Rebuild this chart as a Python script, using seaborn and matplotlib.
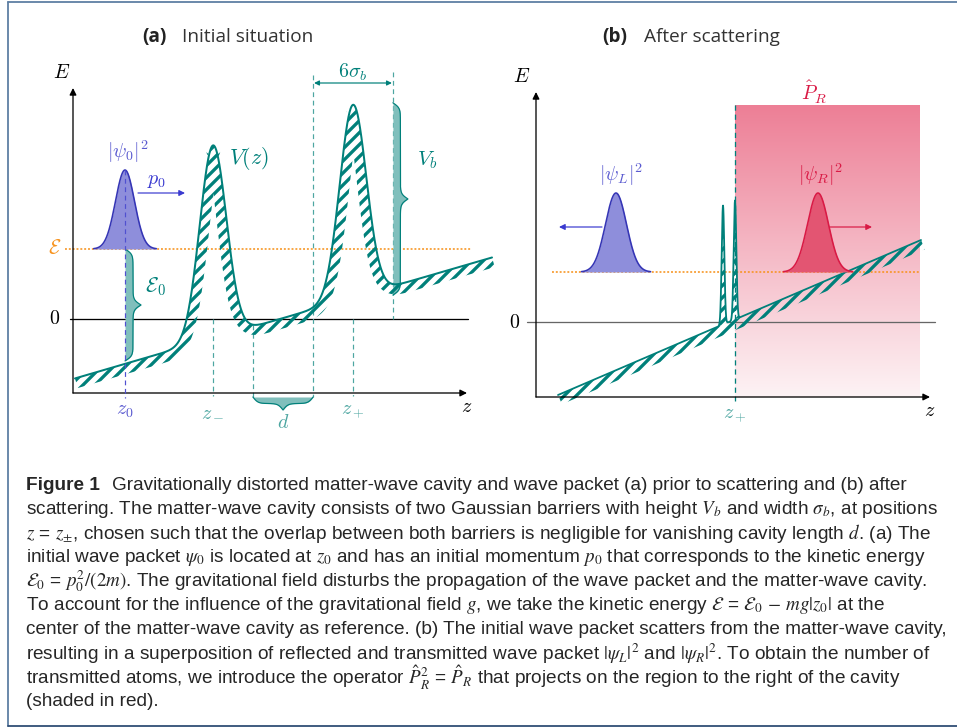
import numpy as np
import matplotlib
matplotlib.use("Agg")
import matplotlib.pyplot as plt
from matplotlib.colors import LinearSegmentedColormap
from matplotlib.lines import Line2D
import seaborn as sns

sns.set_theme(style="white")
plt.rcParams["font.family"] = ["Liberation Sans", "DejaVu Sans"]
plt.rcParams["hatch.linewidth"] = 3.3

TEAL = "#00807a"
TEAL_LIGHT = "#4da6a1"
TEAL_FILL = "#80bfbc"
BLUE = "#3535b5"
BLUE_FILL = "#8e8edb"
BLUE_TEXT = "#5a5ad0"
RED = "#d91a45"
RED_FILL = "#e35572"
ORANGE = "#f7931e"

# ---- panel (a): initial situation (z to the right, E up, origin where E = 0)
a_axis_end = [394, 231]          # tip of z arrow, tip of E arrow
a_axis_floor = -74               # E where the z axis sits
a_slope = 0.29                   # tilt of V(z) from gravity
a_offset = -60                   # V(0) without barriers
a_barrier_z = [140, 280]         # z_-, z_+
a_barrier_height = 193           # V_b
a_barrier_sigma = 13.3           # sigma_b
a_z_range = [2, 419]
a_level = 70                     # kinetic energy level E (orange)
a_level_range = [-8, 399]
a_zero_range = [-3, 395]
a_packet = [52, 9.5, 79]         # z0, width, height of |psi_0|^2

# ---- panel (b): after scattering
b_axis_end = [394, 230]
b_axis_floor = -75
b_slope = 0.427
b_offset = -82.4
b_barrier_z = [187, 199]
b_barrier_height = 119
b_barrier_sigma = 1.3
b_z_range = [22, 385]
b_level = 50
b_level_range = [16, 384]
b_zero_range = [-9, 399]
b_packet_z = [80, 282]           # |psi_L|^2, |psi_R|^2
b_packet_shape = [10.5, 79]
b_region = [199, 384, -75, 217]  # P_R shading: z from, z to, E from, E to

caption_lines = [
    r"Gravitationally distorted matter-wave cavity and wave packet (a) prior to scattering and (b) after",
    r"scattering. The matter-wave cavity consists of two Gaussian barriers with height $V_b$ and width $\sigma_b$, at positions",
    r"$z$ = $z_{\pm}$, chosen such that the overlap between both barriers is negligible for vanishing cavity length $d$. (a) The",
    r"initial wave packet $\psi_0$ is located at $z_0$ and has an initial momentum $p_0$ that corresponds to the kinetic energy",
    r"$\mathcal{E}_0$ = $p_0^2/(2m)$. The gravitational field disturbs the propagation of the wave packet and the matter-wave cavity.",
    r"To account for the influence of the gravitational field $g$, we take the kinetic energy $\mathcal{E}$ = $\mathcal{E}_0$ $-$ $mg|z_0|$ at the",
    r"center of the matter-wave cavity as reference. (b) The initial wave packet scatters from the matter-wave cavity,",
    r"resulting in a superposition of reflected and transmitted wave packet $|\psi_L|^2$ and $|\psi_R|^2$. To obtain the number of",
    r"transmitted atoms, we introduce the operator $\hat{P}_R^2$ = $\hat{P}_R$ that projects on the region to the right of the cavity",
    r"(shaded in red).",
]


def potential(z, offset, slope, centers, height, sigma):
    v = offset + slope * z
    for c in centers:
        v = v + height * np.exp(-(z - c) ** 2 / (2 * sigma ** 2))
    return v


def gaussian(z, center, sigma, height):
    return height * np.exp(-(z - center) ** 2 / (2 * sigma ** 2))


def hatched_wall(ax, z, v, depth=10):
    dz = np.gradient(z)
    dv = np.gradient(v)
    n = np.hypot(dz, dv)
    zz = z + depth * dv / n
    vv = v - depth * dz / n
    ax.fill(np.concatenate([z, zz[::-1]]), np.concatenate([v, vv[::-1]]),
            facecolor="none", edgecolor=TEAL, hatch="//", linewidth=0, zorder=3)


def brace(length, width, n=200):
    t = np.linspace(0, 0.5, n)
    beta = 0.4 * length
    h = 1 / (1 + np.exp(-beta * (t - t[0]))) + 1 / (1 + np.exp(-beta * (t - t[-1])))
    h = np.concatenate([h, h[-2::-1]])
    h = (h - h.min()) / (h.max() - h.min())
    return np.linspace(0, 1, h.size), h * width


def vbrace(ax, z0, e_top, e_bot, width):
    s, h = brace(abs(e_top - e_bot), width)
    e = e_top + s * (e_bot - e_top)
    ax.fill_betweenx(e, z0, z0 + h, color=TEAL_FILL, lw=0, zorder=2)
    ax.plot(z0 + h, e, color=TEAL, lw=1.2, zorder=2)


def hbrace(ax, e0, z_left, z_right, width):
    s, h = brace(z_right - z_left, width)
    z = z_left + s * (z_right - z_left)
    ax.fill_between(z, e0, e0 - h, color=TEAL_FILL, lw=0, zorder=2)
    ax.plot(z, e0 - h, color=TEAL, lw=1.2, zorder=2)


def arrow(ax, start, end, color, style="-|>", lw=1.2, scale=12):
    ax.annotate("", xy=end, xytext=start,
                arrowprops=dict(arrowstyle=style, color=color, lw=lw,
                                mutation_scale=scale, shrinkA=0, shrinkB=0),
                zorder=5)


def label(ax, x, y, s, color="black", size=20, **kw):
    ax.text(x, y, s, color=color, fontsize=size, ha="center", va="center",
            math_fontfamily="cm", **kw)


def packet(ax, center, sigma, height, base, edge, face):
    z = np.linspace(center - 3.3 * sigma, center + 3.3 * sigma, 200)
    g = base + gaussian(z, center, sigma, height)
    ax.fill_between(z, base, g, color=face, lw=0, zorder=4)
    sns.lineplot(x=z, y=g, ax=ax, color=edge, lw=1.6, zorder=4)


def axes_frame(ax, floor, end, zero_range, zero_color):
    arrow(ax, (0, floor), (end[0], floor), "black", lw=1.3, scale=14)
    arrow(ax, (0, floor), (0, end[1]), "black", lw=1.3, scale=14)
    ax.plot(zero_range, [0, 0], color=zero_color, lw=1.3, zorder=1)


W, H = 957, 727
fig = plt.figure(figsize=(W / 72, H / 72), dpi=72)
fig.patch.set_facecolor("white")

# ---------------- panel (a) ----------------
ax = fig.add_axes([40 / W, (H - 440) / H, 460 / W, 390 / H])
ax.set_xlim(-33, 427)
ax.set_ylim(-121, 269)
ax.axis("off")

axes_frame(ax, a_axis_floor, a_axis_end, a_zero_range, "black")
ax.plot(a_level_range, [a_level, a_level], color=ORANGE, lw=1.6, ls=(0, (1.2, 1.2)), zorder=2)

z = np.linspace(a_z_range[0], a_z_range[1], 2000)
v = potential(z, a_offset, a_slope, a_barrier_z, a_barrier_height, a_barrier_sigma)
hatched_wall(ax, z, v)
sns.lineplot(x=z, y=v, ax=ax, color=TEAL, lw=2, zorder=4)

z0, s0, h0 = a_packet
v_z0 = potential(np.array([z0]), a_offset, a_slope, a_barrier_z, a_barrier_height, a_barrier_sigma)[0]
zm, zp = a_barrier_z
edge_l = zm + 3 * a_barrier_sigma
edge_r = zp - 3 * a_barrier_sigma
edge_rr = zp + 3 * a_barrier_sigma
v_edge_l = potential(np.array([edge_l]), a_offset, a_slope, a_barrier_z, a_barrier_height, a_barrier_sigma)[0]
v_edge_rr = potential(np.array([edge_rr]), a_offset, a_slope, a_barrier_z, a_barrier_height, a_barrier_sigma)[0]
v_peak = a_offset + a_slope * zp + a_barrier_height

vbrace(ax, z0, a_level, v_z0 + 3, 16)
vbrace(ax, edge_rr, v_peak + 2, v_edge_rr - 11, 15)
hbrace(ax, a_axis_floor - 4, edge_l, edge_r, 13)

dash = (0, (4, 3))
ax.plot([z0, z0], [a_level + h0, a_axis_floor - 5], color="#5050d0", lw=1.2, ls=dash, zorder=5)
for zz in [zm, zp]:
    ax.plot([zz, zz], [0, a_axis_floor - 3], color=TEAL_LIGHT, lw=1.2, ls=dash, zorder=1)
ax.plot([edge_l, edge_l], [v_edge_l, a_axis_floor - 4], color=TEAL_LIGHT, lw=1.2, ls=dash, zorder=1)
ax.plot([edge_r, edge_r], [244, a_axis_floor - 4], color=TEAL_LIGHT, lw=1.2, ls=dash, zorder=1)
ax.plot([edge_rr, edge_rr], [247, 0], color=TEAL_LIGHT, lw=1.2, ls=dash, zorder=1)
arrow(ax, (edge_r + 1, 236), (edge_rr - 1, 236), TEAL, style="<|-|>", lw=1.2, scale=10)

packet(ax, z0, s0, h0, a_level, BLUE, BLUE_FILL)
arrow(ax, (z0 + 13, 126), (z0 + 60, 126), "#3a3ad0")

label(ax, -11, 246, r"$E$")
label(ax, -18, a_level, r"$\mathcal{E}$", ORANGE)
label(ax, -18, 0, r"$0$")
label(ax, a_axis_end[0], -88, r"$z$")
label(ax, z0, -91, r"$z_0$", BLUE_TEXT)
label(ax, zm, -91, r"$z_-$", TEAL_LIGHT)
label(ax, zp, -91, r"$z_+$", TEAL_LIGHT)
label(ax, (edge_l + edge_r) / 2, -104, r"$d$", TEAL_LIGHT)
label(ax, z0 + 3, 167, r"$|\psi_0|^2$", BLUE_TEXT)
label(ax, z0 + 32, 138, r"$p_0$", "#3a3ad0")
label(ax, zm + 36, 161, r"$V(z)$", TEAL, size=22)
label(ax, edge_rr + 34, 159, r"$V_b$", TEAL, size=21)
label(ax, z0 + 30, 32, r"$\mathcal{E}_0$", TEAL, size=21)
label(ax, zp, 247, r"$6\sigma_b$", TEAL)

# ---------------- panel (b) ----------------
ax = fig.add_axes([500 / W, (H - 440) / H, 457 / W, 390 / H])
cmap = LinearSegmentedColormap.from_list("pr", ["#fdf3f5", "#ed7f96"])
ax.imshow(np.linspace(0, 1, 256).reshape(-1, 1), cmap=cmap, origin="lower",
          extent=b_region, aspect="auto", zorder=0)
ax.set_xlim(-36, 421)
ax.set_ylim(-118, 272)
ax.axis("off")

axes_frame(ax, b_axis_floor, b_axis_end, b_zero_range, "#666666")
ax.plot(b_level_range, [b_level, b_level], color=ORANGE, lw=1.6, ls=(0, (1.2, 1.2)), zorder=2)

z = np.linspace(b_z_range[0], b_z_range[1], 4000)
v_lin = b_offset + b_slope * z
v = potential(z, b_offset, b_slope, b_barrier_z, b_barrier_height, b_barrier_sigma)
hatched_wall(ax, z, v_lin)
ax.fill_between(z, v_lin, v, facecolor="white", edgecolor=TEAL, hatch="//", lw=0, zorder=3)
ax.plot(z, v, color=TEAL, lw=1.8, zorder=4)

ax.plot([b_region[0], b_region[0]], [b_region[3], b_axis_floor - 4], color=TEAL, lw=1.3,
        ls=dash, zorder=3)

packet(ax, b_packet_z[0], b_packet_shape[0], b_packet_shape[1], b_level, BLUE, BLUE_FILL)
packet(ax, b_packet_z[1], b_packet_shape[0], b_packet_shape[1], b_level, RED, RED_FILL)
arrow(ax, (b_packet_z[0] - 14, 95), (b_packet_z[0] - 57, 95), "#3a3ad0")
arrow(ax, (b_packet_z[1] + 12, 95), (b_packet_z[1] + 54, 95), RED)

label(ax, -14, 245, r"$E$")
label(ax, -21, 0, r"$0$")
label(ax, b_axis_end[0], -89, r"$z$")
label(ax, b_region[0], -92, r"$z_+$", TEAL_LIGHT)
label(ax, 278, 230, r"$\hat{P}_R$", RED)
label(ax, b_packet_z[0] + 5, 147, r"$|\psi_L|^2$", BLUE_TEXT)
label(ax, b_packet_z[1] + 3, 147, r"$|\psi_R|^2$", RED)

# ---------------- titles and caption ----------------
for x_tag, x_txt, tag, txt in [(142, 182, "(a)", "Initial situation"),
                               (602, 644, "(b)", "After scattering")]:
    fig.text(x_tag / W, 1 - 37 / H, tag, fontsize=19, fontweight="bold",
             family="Open Sans", va="center", color="#222222")
    fig.text(x_txt / W, 1 - 37 / H, txt, fontsize=19, family="Open Sans",
             va="center", color="#333333")

fig.text(26 / W, 1 - 485 / H, "Figure 1", fontsize=19, fontweight="bold", va="center")
for i, line in enumerate(caption_lines):
    x0 = 112 if i == 0 else 26
    fig.text(x0 / W, 1 - (485 + 24.1 * i) / H, line, fontsize=19, va="center",
             math_fontfamily="stix")

# page frame
fig.add_artist(Line2D([8 / W, 8 / W], [1 - 726 / H, 1 - 1.5 / H], color="#5d7ea3", lw=1.8))
fig.add_artist(Line2D([8 / W, 1], [1 - 1.5 / H, 1 - 1.5 / H], color="#5d7ea3", lw=1.8))
fig.add_artist(Line2D([8 / W, 1], [1 - 726 / H, 1 - 726 / H], color="#2f4d75", lw=1.8))

fig.savefig("out.png", dpi=72)
